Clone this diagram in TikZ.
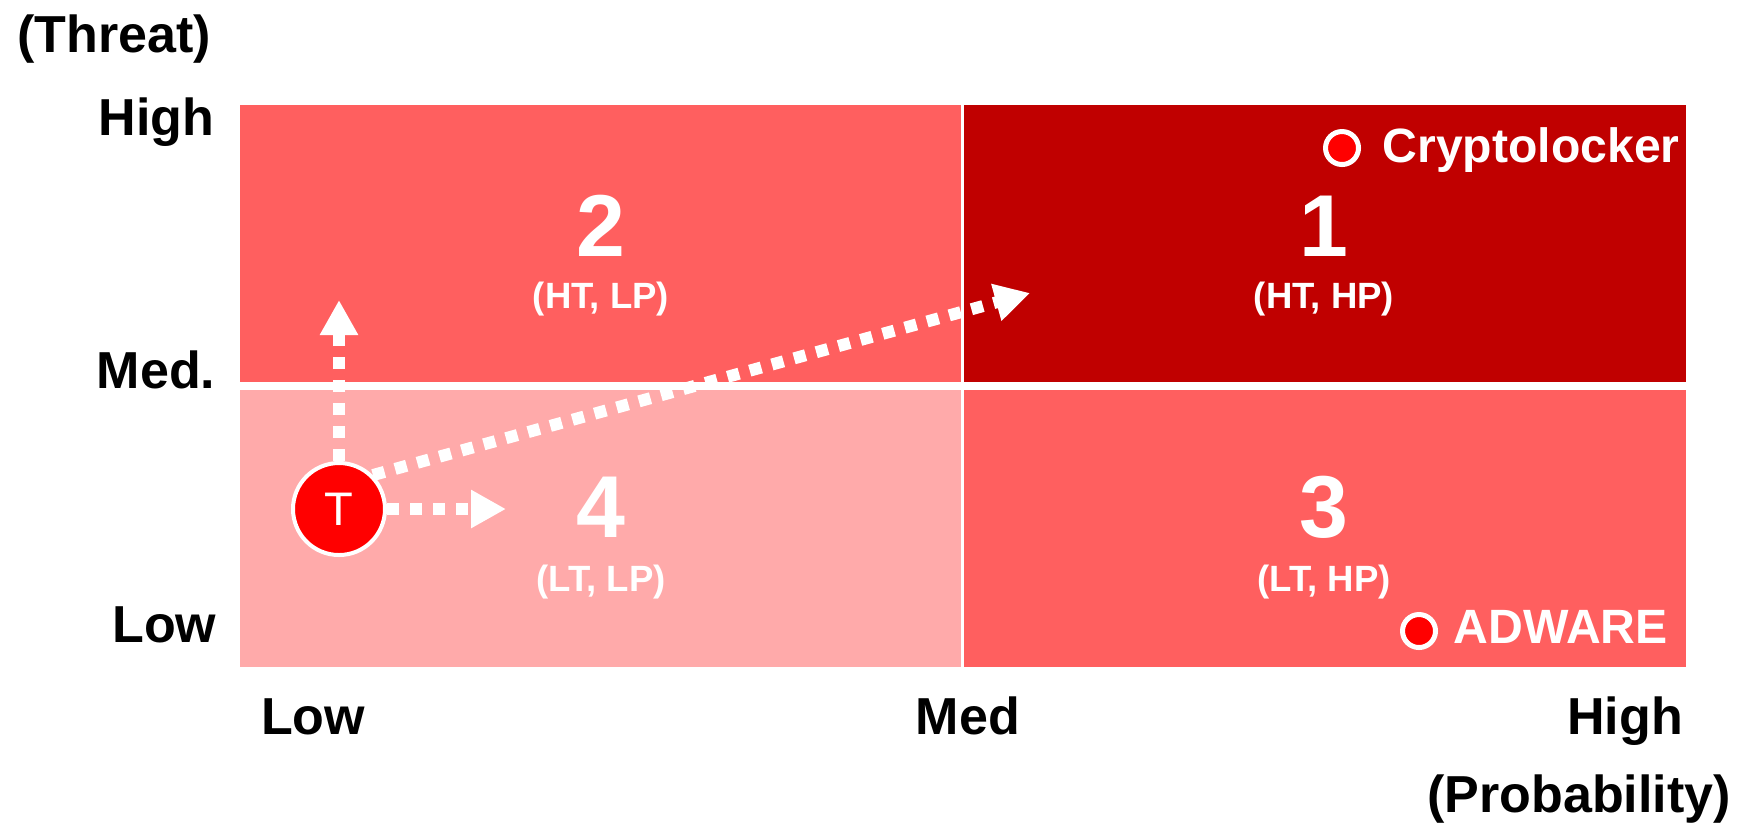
\documentclass[tikz,border=0pt]{standalone}
\usepackage{fontspec}
\setmainfont{Liberation Sans}
\usepackage{xcolor}
\usetikzlibrary{arrows.meta, positioning, calc}
\definecolor{DeepRed}{RGB}{192, 0, 0}
\definecolor{MidRed}{RGB}{255, 95, 95}
\definecolor{PaleRed}{RGB}{255, 170, 170}
\definecolor{DotRed}{RGB}{255, 0, 0}

\begin{document}
\begin{tikzpicture}[x=0.1mm, y=-0.1mm,
    axislbl/.style={font=\fontsize{14.8}{16}\selectfont\bfseries, inner sep=0pt},
    cellnum/.style={text=white, font=\fontsize{25}{28}\selectfont\bfseries, inner sep=0pt, anchor=base},
    celltag/.style={text=white, font=\fontsize{10.4}{12}\selectfont\bfseries, inner sep=0pt, anchor=base},
    malware/.style={circle, fill=DotRed, draw=white, line width=0.5mm, minimum size=3.3mm, inner sep=0pt},
    mwname/.style={text=white, font=\fontsize{13.7}{16}\selectfont\bfseries, inner sep=0pt, anchor=base west},
    moveto/.style={white, line width=1.2mm, dash pattern=on 1.2mm off 1.1mm, -{Triangle[length=3.5mm, width=3.6mm]}}]
    \useasboundingbox (0,0) rectangle (1742,838);

    % 四个象限
    \fill[MidRed] (240,105) rectangle (961,382);
    \fill[DeepRed] (964,105) rectangle (1686,382);
    \fill[PaleRed] (240,390) rectangle (961,667);
    \fill[MidRed] (964,390) rectangle (1686,667);

    % 纵轴 (Threat)
    \node[axislbl, anchor=base] (threat) at (114,52) {(Threat)};
    \node[axislbl, anchor=base east] (thigh) at (215,135) {High};
    \node[axislbl, anchor=base east] (tmed) at (216,388) {Med.};
    \node[axislbl, anchor=base east] (tlow) at (217,642) {Low};

    % 横轴 (Probability)
    \node[axislbl, anchor=base] (plow) at (313,734) {Low};
    \node[axislbl, anchor=base] (pmed) at (968,734) {Med};
    \node[axislbl, anchor=base] (phigh) at (1625,734) {High};
    \node[axislbl, anchor=base] (prob) at (1579,812) {(Probability)};

    % 象限编号
    \node[cellnum] (q1) at (1324,256) {1};
    \node[celltag] (q1tag) at (1324,308) {(HT, HP)};
    \node[cellnum] (q2) at (601,256) {2};
    \node[celltag] (q2tag) at (601,308) {(HT, LP)};
    \node[cellnum] (q3) at (1324,537) {3};
    \node[celltag] (q3tag) at (1324,591) {(LT, HP)};
    \node[cellnum] (q4) at (601,537) {4};
    \node[celltag] (q4tag) at (601,591) {(LT, LP)};

    % 已知样本
    \node[malware] (crypto) at (1342,148) {};
    \node[mwname] (cryptoname) at (1382,162) {Cryptolocker};
    \node[malware] (adware) at (1419,631) {};
    \node[mwname] (adwarename) at (1453,643) {ADWARE};

    % 目标 T 及其移动方向
    \node[circle, fill=DotRed, draw=white, line width=0.4mm, minimum size=9.2mm, inner sep=0pt,
          text=white, font=\fontsize{13.4}{15}\selectfont] (tgt) at (339,509) {T};
    \coordinate (upend) at (339,300);
    \coordinate (rightend) at (506,509);
    \coordinate (diagend) at (1030,293);
    \draw[moveto] (tgt.north) -- (upend);
    \draw[moveto] (tgt.east) -- (rightend);
    \draw[moveto] (tgt.north east) -- (diagend);
\end{tikzpicture}
\end{document}
